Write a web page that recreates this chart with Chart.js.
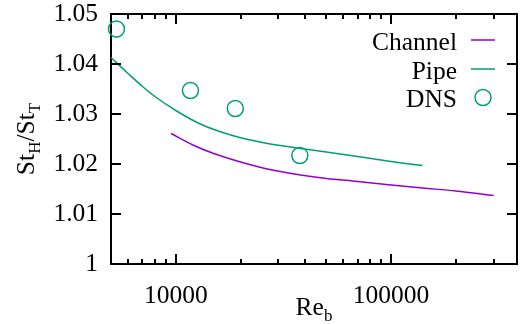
<!DOCTYPE html>
<html>
<head>
<meta charset="utf-8">
<script src="https://cdn.jsdelivr.net/npm/chart.js@4"></script>
<style>
  body { margin: 0; background: #fff; }
</style>
</head>
<body>
<canvas id="chart" width="527" height="324"></canvas>
<script>
// Channel correlation
const channelRe = [9500, 12000, 15000, 20000, 26000, 38000, 50000, 70000, 100000, 140000, 200000, 300000];
const channelSt = [1.0261, 1.0238, 1.0221, 1.0204, 1.0191, 1.0178, 1.0171, 1.0165, 1.0158, 1.0152, 1.0146, 1.0137];

// Pipe correlation
const pipeRe = [5000, 6000, 7000, 8000, 10000, 13000, 18000, 26000, 38000, 50000, 70000, 100000, 140000];
const pipeSt = [1.0413, 1.0381, 1.0355, 1.0335, 1.0307, 1.0280, 1.0258, 1.0242, 1.0231, 1.0224, 1.0215, 1.0205, 1.0197];

// DNS points
const dnsRe = [5300, 11700, 18900, 37700];
const dnsSt = [1.0470, 1.0347, 1.0311, 1.0217];

const xTickValues = [10000, 100000];
const yTickValues = [1, 1.01, 1.02, 1.03, 1.04, 1.05];

const PURPLE = "#9400d3";
const GREEN = "#009e73";
const FONT = "'Liberation Serif', 'DejaVu Serif', serif";
const BIG = 25.5;
const SMALL = 17;

const toPoints = (xs, ys) => xs.map((x, i) => ({ x: x, y: ys[i] }));

// inward ticks on all four sides (the box itself comes from the scale borders)
const inwardTicks = {
  id: "inwardTicks",
  afterDatasetsDraw(chart) {
    const ctx = chart.ctx;
    const a = chart.chartArea;
    const xs = chart.scales.x;
    const ys = chart.scales.y;
    ctx.save();
    ctx.strokeStyle = "rgb(0,0,0)";
    ctx.lineWidth = 2;
    ctx.beginPath();
    yTickValues.forEach((v) => {
      const py = Math.round(ys.getPixelForValue(v));
      ctx.moveTo(a.left, py);
      ctx.lineTo(a.left + 10, py);
      ctx.moveTo(a.right, py);
      ctx.lineTo(a.right - 10, py);
    });
    for (let dec = 1000; dec <= 100000; dec *= 10) {
      for (let m = 1; m <= 9; m++) {
        const v = dec * m;
        if (v <= xs.min || v >= xs.max) continue;
        const len = m === 1 ? 10 : 5;
        const px = Math.round(xs.getPixelForValue(v));
        ctx.moveTo(px, a.bottom);
        ctx.lineTo(px, a.bottom - len);
        ctx.moveTo(px, a.top);
        ctx.lineTo(px, a.top + len);
      }
    }
    ctx.stroke();
    ctx.restore();
  },
};

// axis titles with subscripts and gnuplot-like key
const labels = {
  id: "labels",
  afterDraw(chart) {
    const ctx = chart.ctx;
    const area = chart.chartArea;
    ctx.save();
    ctx.fillStyle = "#000";
    ctx.textBaseline = "alphabetic";
    ctx.textAlign = "left";

    // Re_b
    const cx = (area.left + area.right) / 2;
    ctx.font = BIG + "px " + FONT;
    const reW = ctx.measureText("Re").width;
    ctx.font = SMALL + "px " + FONT;
    const bW = ctx.measureText("b").width;
    const x0 = cx - (reW + bW) / 2;
    ctx.font = BIG + "px " + FONT;
    ctx.fillText("Re", x0, 315);
    ctx.font = SMALL + "px " + FONT;
    ctx.fillText("b", x0 + reW, 321);

    // St_H/St_T, rotated
    const parts = [
      { t: "St", size: BIG, dy: 0 },
      { t: "H", size: SMALL, dy: 6 },
      { t: "/St", size: BIG, dy: 0 },
      { t: "T", size: SMALL, dy: 6 },
    ];
    let total = 0;
    parts.forEach((p) => {
      ctx.font = p.size + "px " + FONT;
      p.w = ctx.measureText(p.t).width;
      total += p.w;
    });
    ctx.translate(34, (area.top + area.bottom) / 2);
    ctx.rotate(-Math.PI / 2);
    let off = -total / 2;
    parts.forEach((p) => {
      ctx.font = p.size + "px " + FONT;
      ctx.fillText(p.t, off, p.dy);
      off += p.w;
    });
    ctx.setTransform(1, 0, 0, 1, 0, 0);

    // key: text right-aligned, sample on the right
    ctx.font = BIG + "px " + FONT;
    ctx.textAlign = "right";
    const keyY = [40, 69, 97.5];
    chart.data.datasets.forEach((ds, i) => {
      const y = keyY[i];
      ctx.fillStyle = "#000";
      ctx.fillText(ds.label, 457, y + 9.5);
      if (ds.showLine === false) {
        ctx.strokeStyle = ds.borderColor;
        ctx.lineWidth = 1.5;
        ctx.beginPath();
        ctx.arc(483, y, 8, 0, Math.PI * 2);
        ctx.stroke();
      } else {
        ctx.fillStyle = ds.borderColor;
        ctx.fillRect(471, y - 0.75, 24, 1.5);
      }
    });
    ctx.restore();
  },
};

const frameBorder = { display: true, color: "#000", width: 2 };

new Chart(document.getElementById("chart"), {
  type: "line",
  data: {
    datasets: [
      {
        label: "Channel",
        data: toPoints(channelRe, channelSt),
        borderColor: PURPLE,
        borderWidth: 1.5,
        pointRadius: 0,
        cubicInterpolationMode: "monotone",
        fill: false,
      },
      {
        label: "Pipe",
        data: toPoints(pipeRe, pipeSt),
        borderColor: GREEN,
        borderWidth: 1.5,
        pointRadius: 0,
        cubicInterpolationMode: "monotone",
        fill: false,
      },
      {
        label: "DNS",
        data: toPoints(dnsRe, dnsSt),
        borderColor: GREEN,
        backgroundColor: "rgba(0,0,0,0)",
        showLine: false,
        pointStyle: "circle",
        pointRadius: 8,
        pointBorderWidth: 1.5,
        clip: false,
      },
    ],
  },
  options: {
    responsive: false,
    animation: false,
    layout: { padding: { top: 14, right: 10, left: 0, bottom: 0 } },
    plugins: {
      legend: { display: false },
      tooltip: { enabled: false },
    },
    scales: {
      x: {
        type: "logarithmic",
        min: 5000,
        max: 385000,
        grid: { display: false, drawTicks: false },
        border: frameBorder,
        afterBuildTicks: (scale) => {
          scale.ticks = xTickValues.map((v) => ({ value: v }));
        },
        afterFit: (scale) => {
          scale.height = 60;
          scale.paddingLeft = 0;
          scale.paddingRight = 0;
        },
        ticks: {
          autoSkip: false,
          maxRotation: 0,
          padding: 18,
          color: "#000",
          font: { family: FONT, size: BIG, lineHeight: 1.1 },
          callback: (v) => String(v),
        },
      },
      x2: {
        type: "logarithmic",
        position: "top",
        min: 5000,
        max: 385000,
        grid: { display: false, drawTicks: false },
        border: frameBorder,
        ticks: { display: false },
        afterFit: (scale) => {
          scale.height = 0;
          scale.paddingLeft = 0;
          scale.paddingRight = 0;
        },
      },
      y: {
        min: 1,
        max: 1.05,
        grid: { display: false, drawTicks: false },
        border: frameBorder,
        afterBuildTicks: (scale) => {
          scale.ticks = yTickValues.map((v) => ({ value: v }));
        },
        afterFit: (scale) => {
          scale.width = 111;
          scale.paddingTop = 0;
          scale.paddingBottom = 0;
        },
        ticks: {
          padding: 13,
          color: "#000",
          font: { family: FONT, size: BIG, lineHeight: 1.1 },
          callback: (v) => String(+v.toFixed(2)),
        },
      },
      y2: {
        position: "right",
        min: 1,
        max: 1.05,
        grid: { display: false, drawTicks: false },
        border: frameBorder,
        ticks: { display: false },
        afterFit: (scale) => {
          scale.width = 0;
          scale.paddingTop = 0;
          scale.paddingBottom = 0;
        },
      },
    },
  },
  plugins: [inwardTicks, labels],
});
</script>
</body>
</html>
